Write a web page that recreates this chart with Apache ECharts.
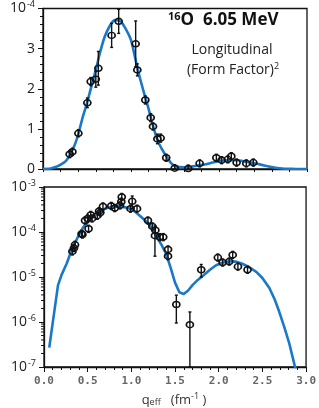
<!DOCTYPE html>
<html><head><meta charset="utf-8">
<script src="https://cdn.jsdelivr.net/npm/echarts@6/dist/echarts.min.js"></script>
<style>html,body{margin:0;padding:0;background:#fff}#c{width:319px;height:408px}</style>
</head><body><div id="c"></div>
<script>
// all values in units of 1e-4 (fm^-1 on x)
const curveQ = [0, 0.06, 0.16, 0.2, 0.26, 0.32, 0.36, 0.4, 0.45, 0.5, 0.55, 0.6, 0.65, 0.7, 0.76, 0.815, 0.87, 0.93, 1.0, 1.05, 1.1, 1.15, 1.2, 1.25, 1.3, 1.35, 1.4, 1.45, 1.5, 1.55, 1.6, 1.65, 1.7, 1.76, 1.82, 1.9, 1.97, 2.05, 2.14, 2.21, 2.27, 2.35, 2.43, 2.5, 2.58, 2.64, 2.69, 2.75, 2.805, 2.87, 2.92, 3.0];
const curveV = [0, 0.0027, 0.065, 0.11, 0.2, 0.42, 0.6, 0.86, 1.28, 1.64, 2.06, 2.47, 2.92, 3.29, 3.57, 3.71, 3.70, 3.53, 3.21, 2.74, 2.28, 1.88, 1.5, 1.08, 0.72, 0.5, 0.32, 0.16, 0.075, 0.046, 0.042, 0.05, 0.066, 0.086, 0.107, 0.145, 0.182, 0.21, 0.225, 0.217, 0.197, 0.165, 0.13, 0.095, 0.057, 0.032, 0.0175, 0.0078, 0.0035, 0.00107, 0.0005, 0.0001];

const topQ = [0.303, 0.334, 0.402, 0.504, 0.542, 0.60, 0.629, 0.78, 0.86, 1.053, 1.072, 1.163, 1.224, 1.25, 1.30, 1.337, 1.40, 1.497, 1.65, 1.78, 1.97, 2.03, 2.10, 2.14, 2.20, 2.31, 2.39];
const topV = [0.37, 0.43, 0.89, 1.65, 2.18, 2.24, 2.51, 3.33, 3.68, 3.12, 2.47, 1.72, 1.28, 1.06, 0.75, 0.77, 0.28, 0.02, 0.01, 0.14, 0.28, 0.22, 0.24, 0.32, 0.16, 0.14, 0.16];
const topErr = [0.04, 0.04, 0.05, 0.12, 0.1, 0.2, 0.42, 0.3, 0.3, 0.57, 0.15, 0.1, 0.1, 0.08, 0.12, 0.1, 0.05, 0.03, 0.03, 0.03, 0.04, 0.04, 0.04, 0.04, 0.04, 0.03, 0.03];

const botQ = [0.325, 0.343, 0.355, 0.43, 0.44, 0.47, 0.5, 0.51, 0.535, 0.55, 0.61, 0.63, 0.645, 0.675, 0.77, 0.81, 0.87, 0.885, 0.89, 0.99, 1.01, 1.065, 1.19, 1.24, 1.275, 1.27, 1.325, 1.365, 1.42, 1.42, 1.515, 1.67, 1.80, 1.99, 2.045, 2.12, 2.16, 2.22, 2.33];
const botV = [0.37, 0.44, 0.52, 0.91, 0.88, 1.8, 2.0, 1.18, 2.4, 2.0, 2.3, 2.9, 2.7, 3.7, 3.8, 3.4, 3.9, 4.7, 6.0, 3.3, 4.8, 3.3, 1.8, 1.33, 1.1, 0.83, 0.77, 0.77, 0.41, 0.29, 0.0245, 0.0087, 0.145, 0.27, 0.21, 0.22, 0.31, 0.17, 0.145];
const botErr = [0.03, 0.04, 0.04, 0.06, 0.05, 0.15, 0.2, 0.2, 0.25, 0.15, 0.2, 0.25, 0.2, 0.3, 0.3, 0.3, 0.4, 0.5, 1.0, 0.3, 1.5, 0.3, 0.12, 0.1, 0.1, 0.54, 0.06, 0.06, 0.08, 0.03, 0.015, 0.008, 0.045, 0.03, 0.02, 0.02, 0.03, 0.02, 0.015];

const topYTicks = [0, 1, 2, 3, 4];
const logDecades = [0.001, 0.01, 0.1, 1, 10];   // = 1e-7 .. 1e-3
const logExp = [-7, -6, -5, -4, -3];

const curveTop = curveQ.map((q, i) => [q, curveV[i]]);
const curveLog = curveQ.map((q, i) => [q, curveV[i]]).filter(d => d[1] > 0);
const topPts = topQ.map((q, i) => [q, topV[i], topErr[i]]);
const botPts = botQ.map((q, i) => [q, botV[i], botErr[i]]);
const minorLog = [];
logDecades.slice(0, 4).forEach(d => { for (let k = 2; k <= 9; k++) minorLog.push([0, d * k]); });

const supRich = {
  b: {fontSize: 14, fontFamily: 'Open Sans', color: '#222'},
  s: {fontSize: 9, fontFamily: 'Open Sans', color: '#222', padding: [0, 0, 8, 1]}
};

function errRender(isLog) {
  return function (params, api) {
    const q = api.value(0), v = api.value(1), e = api.value(2);
    const cs = params.coordSys;
    const c = api.coord([q, v]);
    let yTop = api.coord([q, v + e])[1];
    let yBot = (v - e > 0) ? api.coord([q, v - e])[1] : cs.y + cs.height;
    if (!isFinite(yBot)) yBot = cs.y + cs.height;
    yTop = Math.max(cs.y, Math.min(yTop, c[1] - 3.5));
    yBot = Math.min(cs.y + cs.height, Math.max(yBot, c[1] + 3.5));
    const st = {stroke: '#111', lineWidth: 1.4};
    return {type: 'group', children: [
      {type: 'line', shape: {x1: c[0], y1: yTop, x2: c[0], y2: yBot}, style: st},
      {type: 'line', shape: {x1: c[0] - 1.5, y1: yTop, x2: c[0] + 1.5, y2: yTop}, style: st},
      {type: 'line', shape: {x1: c[0] - 1.5, y1: yBot, x2: c[0] + 1.5, y2: yBot}, style: st}
    ]};
  };
}

const axisLine = {show: true, lineStyle: {color: '#111', width: 1.3}};
const chart = echarts.init(document.getElementById('c'), null, {renderer: 'canvas'});
chart.setOption({
  animation: false,
  grid: [
    {left: 43, top: 6, width: 264, height: 163, show: true, borderColor: '#111', borderWidth: 1.3, backgroundColor: 'transparent'},
    {left: 44, top: 187, width: 263, height: 180, show: true, borderColor: '#111', borderWidth: 1.3, backgroundColor: 'transparent'}
  ],
  xAxis: [
    {gridIndex: 0, type: 'value', min: 0, max: 3, interval: 0.2, axisLine,
     axisTick: {show: true, length: 3, lineStyle: {color: '#111'}}, axisLabel: {show: false}, splitLine: {show: false}},
    {gridIndex: 1, type: 'value', min: 0, max: 3, interval: 0.5, axisLine,
     axisTick: {show: true, length: 5, lineStyle: {color: '#111'}},
     minorTick: {show: true, splitNumber: 5, length: 3, lineStyle: {color: '#111'}},
     axisLabel: {show: true, margin: 9, color: '#666', fontFamily: 'DejaVu Sans Mono', fontWeight: 'bold', fontSize: 11,
       formatter: v => v.toFixed(1)},
     splitLine: {show: false}}
  ],
  yAxis: [
    {gridIndex: 0, type: 'value', min: 0, max: 4, interval: 1, axisLine,
     axisTick: {show: true, length: 5, lineStyle: {color: '#111'}},
     minorTick: {show: true, splitNumber: 5, length: 3, lineStyle: {color: '#111'}},
     axisLabel: {margin: 8, rich: supRich, formatter: v => v === topYTicks[4] ? '{b|10}{s|-4}' : '{b|' + v + '}'},
     splitLine: {show: false}},
    {gridIndex: 1, type: 'log', logBase: 10, min: logDecades[0], max: logDecades[4], axisLine,
     axisTick: {show: true, length: 5, lineStyle: {color: '#111'}},
     axisLabel: {margin: 8, rich: supRich, formatter: v => {
       const i = logDecades.findIndex(d => Math.abs(Math.log10(d) - Math.log10(v)) < 0.01);
       return i < 0 ? '' : '{b|10}{s|' + logExp[i] + '}';
     }},
     splitLine: {show: false}}
  ],
  series: [
    {type: 'line', xAxisIndex: 0, yAxisIndex: 0, data: curveTop, showSymbol: false, smooth: 0.25,
     lineStyle: {color: '#1a78c8', width: 2.6, join: 'round'}, z: 2, clip: true},
    {type: 'line', xAxisIndex: 1, yAxisIndex: 1, data: curveLog, showSymbol: false, smooth: false,
     lineStyle: {color: '#1a78c8', width: 2.6, join: 'round'}, z: 2, clip: true},
    {type: 'custom', xAxisIndex: 0, yAxisIndex: 0, data: topPts, renderItem: errRender(false), z: 3},
    {type: 'custom', xAxisIndex: 1, yAxisIndex: 1, data: botPts, renderItem: errRender(true), z: 3},
    {type: 'scatter', xAxisIndex: 0, yAxisIndex: 0, data: topPts, symbol: 'circle', symbolSize: [7, 6],
     itemStyle: {color: 'rgba(255,255,255,0)', borderColor: '#111', borderWidth: 1.6, opacity: 1}, z: 4},
    {type: 'scatter', xAxisIndex: 1, yAxisIndex: 1, data: botPts, symbol: 'circle', symbolSize: [7, 6],
     itemStyle: {color: 'rgba(255,255,255,0)', borderColor: '#111', borderWidth: 1.6, opacity: 1}, z: 4},
    {type: 'custom', xAxisIndex: 1, yAxisIndex: 1, data: minorLog, clip: false, z: 5,
     renderItem: (params, api) => {
       const cs = params.coordSys;
       const y = api.coord([0, api.value(1)])[1];
       return {type: 'line', shape: {x1: cs.x - 3, y1: y, x2: cs.x, y2: y}, style: {stroke: '#111', lineWidth: 1}};
     }}
  ],
  graphic: [
    {type: 'text', left: 168, top: 11, style: {text: '{s|16}{b|O  6.05 MeV}', rich: {
      s: {fontSize: 11, fontWeight: 'bold', fontFamily: 'Open Sans', fill: '#111', padding: [0, 0, 7, 0]},
      b: {fontSize: 17, fontWeight: 'bold', fontFamily: 'Open Sans', fill: '#111'}}}},
    {type: 'text', x: 232, y: 50, style: {text: 'Longitudinal', fontSize: 14, fontFamily: 'Open Sans', fill: '#222', align: 'center', verticalAlign: 'middle'}},
    {type: 'text', x: 233, y: 70, style: {text: '{b|(Form Factor)}{s|2}', align: 'center', verticalAlign: 'middle', rich: {
      b: {fontSize: 14, fontFamily: 'Open Sans', fill: '#222'},
      s: {fontSize: 9, fontFamily: 'Open Sans', fill: '#222', padding: [0, 0, 7, 0]}}}},
    {type: 'text', x: 174, y: 400, style: {text: '{b|q}{u|eff}{b|   (fm}{s|-1}{b| )}', align: 'center', verticalAlign: 'middle', rich: {
      b: {fontSize: 13, fontFamily: 'Open Sans', fill: '#333'},
      u: {fontSize: 9, fontFamily: 'Open Sans', fill: '#333', padding: [5, 0, 0, 0]},
      s: {fontSize: 9, fontFamily: 'Open Sans', fill: '#333', padding: [0, 0, 7, 0]}}}}
  ]
});
</script></body></html>
